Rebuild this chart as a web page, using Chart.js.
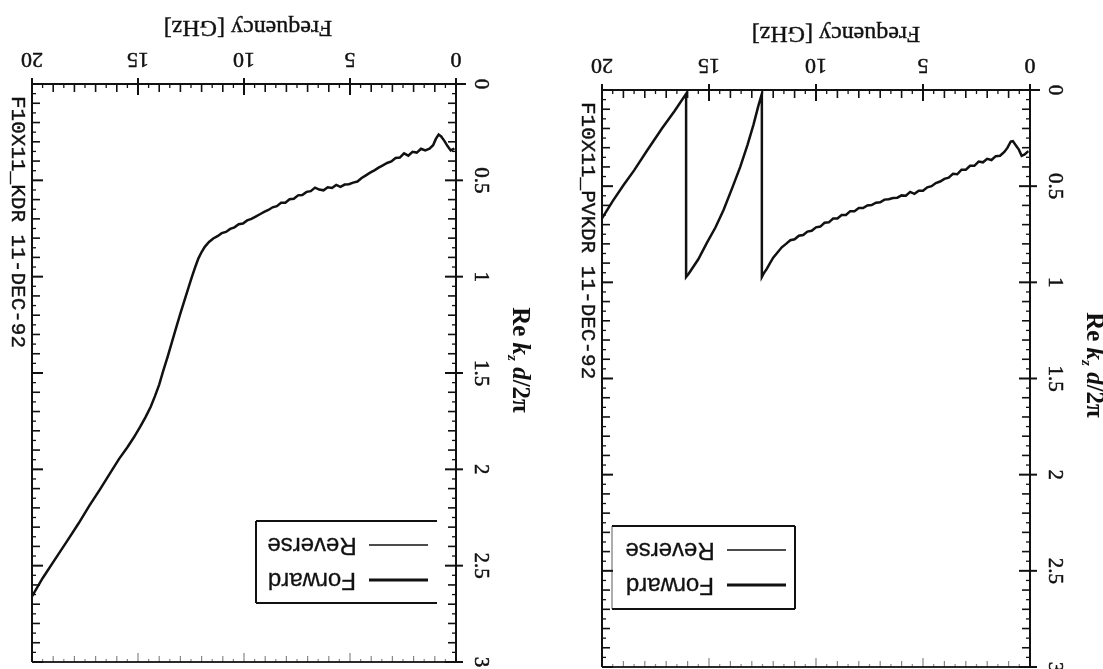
<!DOCTYPE html>
<html>
<head>
<meta charset="utf-8">
<title>F10X11 dispersion</title>
<script src="https://cdn.jsdelivr.net/npm/chart.js@4.4.0/dist/chart.umd.min.js"></script>
<style>
  html, body { margin: 0; padding: 0; background: #fff; }
  #sheet { position: relative; width: 1103px; height: 669px; overflow: hidden; background: #fff; }
  #sheet canvas { position: absolute; left: 0; top: 0; }
</style>
</head>
<body>
<div id="sheet">
  <canvas id="kdr" width="1103" height="669"></canvas>
  <canvas id="pvkdr" width="1103" height="669"></canvas>
</div>
<script>
// Axis ticks
const freqTicks = [0, 5, 10, 15, 20];
const kTicks = [0, 0.5, 1, 1.5, 2, 2.5, 3];
const kTickLabels = ['0', '0.5', '1', '1.5', '2', '2.5', '3'];

// KDR run: frequency [GHz] and Re kz d/2pi (unfolded)
const kdrFreq = [0.08, 0.25, 0.40, 0.55, 0.70, 0.82, 0.95, 1.08, 1.25, 1.45, 1.65, 1.85, 2.05, 2.25, 2.45,
  2.65, 2.85, 3.05, 3.25, 3.45, 3.65, 3.85, 4.05, 4.25, 4.45, 4.65, 4.85, 5.05, 5.25, 5.45, 5.65, 5.85,
  6.05, 6.25, 6.45, 6.65, 6.85, 7.05, 7.25, 7.45, 7.65, 7.85, 8.05, 8.25, 8.45, 8.65, 8.85, 9.05, 9.25,
  9.45, 9.65, 9.85, 10.05, 10.25, 10.45, 10.65, 10.85, 11.05, 11.25, 11.45, 11.65, 11.85, 12.0, 12.15,
  12.3, 12.45, 12.6, 12.8, 13.0, 13.2, 13.4, 13.6, 13.8, 14.0, 14.2, 14.4, 14.65, 14.9, 15.2, 15.5,
  15.9, 16.3, 16.8, 17.3, 17.8, 18.3, 18.9, 19.5, 20.0];
const kdrK = [0.335, 0.345, 0.322, 0.295, 0.272, 0.262, 0.285, 0.318, 0.336, 0.345, 0.336, 0.356, 0.352,
  0.372, 0.360, 0.382, 0.384, 0.402, 0.410, 0.422, 0.434, 0.448, 0.460, 0.474, 0.488, 0.506, 0.512, 0.520,
  0.522, 0.534, 0.524, 0.540, 0.536, 0.552, 0.548, 0.538, 0.556, 0.560, 0.576, 0.578, 0.596, 0.598, 0.616,
  0.616, 0.634, 0.640, 0.654, 0.664, 0.676, 0.688, 0.700, 0.708, 0.724, 0.728, 0.744, 0.752, 0.768, 0.774,
  0.790, 0.802, 0.820, 0.845, 0.872, 0.905, 0.950, 0.998, 1.050, 1.120, 1.190, 1.265, 1.340, 1.415, 1.485,
  1.560, 1.620, 1.675, 1.730, 1.780, 1.835, 1.885, 1.947, 2.017, 2.105, 2.190, 2.280, 2.365, 2.465, 2.565,
  2.660];

// PVKDR run: same measurement folded back into 0..1
const pvFreq = [0.08, 0.25, 0.39, 0.52, 0.65, 0.80, 0.90, 1.05, 1.2, 1.4, 1.6, 1.8, 2.0, 2.2, 2.4, 2.6,
  2.8, 3.0, 3.2, 3.4, 3.6, 3.8, 4.0, 4.2, 4.4, 4.6, 4.8, 5.0, 5.2, 5.4, 5.6, 5.8, 6.0, 6.2, 6.4, 6.6, 6.8,
  7.0, 7.2, 7.4, 7.6, 7.8, 8.0, 8.2, 8.4, 8.6, 8.8, 9.0, 9.2, 9.4, 9.6, 9.8, 10.0, 10.2, 10.4, 10.6, 10.8,
  11.0, 11.2, 11.4, 11.6, 11.8, 12.0, 12.15, 12.3, 12.45, 12.53, 12.53, 12.7, 12.92, 13.2, 13.54, 13.9,
  14.32, 14.7, 15.1, 15.5, 15.95, 16.07, 16.07, 16.6, 17.2, 17.9, 18.5, 19.0, 19.5, 20.0];
const pvK = [0.318, 0.335, 0.342, 0.310, 0.290, 0.266, 0.268, 0.300, 0.322, 0.342, 0.344, 0.364, 0.358,
  0.376, 0.372, 0.394, 0.394, 0.414, 0.414, 0.438, 0.436, 0.456, 0.462, 0.476, 0.484, 0.500, 0.506, 0.524,
  0.524, 0.540, 0.530, 0.550, 0.548, 0.560, 0.562, 0.568, 0.570, 0.584, 0.586, 0.598, 0.600, 0.614, 0.614,
  0.630, 0.630, 0.650, 0.650, 0.668, 0.668, 0.688, 0.690, 0.710, 0.714, 0.732, 0.736, 0.754, 0.758, 0.776,
  0.781, 0.800, 0.818, 0.845, 0.872, 0.900, 0.930, 0.955, 0.972, 0.020, 0.085, 0.180, 0.285, 0.400, 0.505,
  0.624, 0.715, 0.795, 0.880, 0.955, 0.972, 0.020, 0.108, 0.200, 0.316, 0.418, 0.495, 0.578, 0.667];

const INK = '#111';
const SERIF = '"Liberation Serif", "DejaVu Serif", serif';

function line(ctx, x1, y1, x2, y2) {
  ctx.beginPath(); ctx.moveTo(x1, y1); ctx.lineTo(x2, y2); ctx.stroke();
}

// text drawn with a hairline stroke so it keeps the heavy plotter look
function text(ctx, str, x, y, angle, font, align, heavy) {
  ctx.save();
  ctx.translate(x, y);
  ctx.rotate(angle);
  ctx.font = font;
  ctx.textAlign = align || 'center';
  ctx.textBaseline = 'middle';
  ctx.fillText(str, 0, 0);
  if (heavy) { ctx.lineWidth = heavy; ctx.strokeText(str, 0, 0); }
  ctx.restore();
}

// "Re k_z d/2π" written top to bottom
function kTitle(ctx, cx, cy) {
  const parts = [
    { s: 'Re ', f: 'bold 25px ' + SERIF, dy: 0 },
    { s: 'k', f: 'italic bold 25px ' + SERIF, dy: 0 },
    { s: 'z', f: 'italic bold 15px ' + SERIF, dy: 7 },
    { s: ' d', f: 'italic bold 25px ' + SERIF, dy: 0 },
    { s: '/2π', f: 'bold 25px ' + SERIF, dy: 0 }
  ];
  let w = 0;
  parts.forEach(p => { ctx.font = p.f; p.w = ctx.measureText(p.s).width; w += p.w; });
  ctx.save();
  ctx.translate(cx, cy);
  ctx.rotate(Math.PI / 2);
  ctx.textBaseline = 'middle';
  ctx.textAlign = 'left';
  let x = -w / 2;
  parts.forEach(p => { ctx.font = p.f; ctx.fillText(p.s, x, p.dy); x += p.w; });
  ctx.restore();
}

// frame, inward ticks, rotated labels and legend of the old plotter sheet
const scanFrame = {
  id: 'scanFrame',
  afterDraw(chart, args, o) {
    const { ctx, chartArea: a, scales: { x, y } } = chart;
    ctx.save();
    ctx.strokeStyle = INK;
    ctx.fillStyle = INK;

    // box
    ctx.lineWidth = 2;
    line(ctx, a.left, a.top, a.right + 10, a.top);
    line(ctx, a.right, a.top - 4, a.right, a.bottom);
    line(ctx, a.left, a.top, a.left, a.bottom);
    ctx.strokeStyle = '#2a2a2a';
    line(ctx, a.left, a.bottom, a.right + 4, a.bottom);
    ctx.strokeStyle = INK;

    // frequency ticks, every 0.5 GHz
    for (let i = 0; i <= 40; i++) {
      const px = x.getPixelForValue(i / 2);
      if (i % 10 === 0) { ctx.lineWidth = 2; line(ctx, px, a.top - 6, px, a.top + 11); }
      else if (i % 2 === 0) { ctx.lineWidth = 1.6; line(ctx, px, a.top, px, a.top + 8); }
      else { ctx.lineWidth = 1.3; line(ctx, px, a.top, px, a.top + 4); }
      ctx.globalAlpha = 0.5;
      ctx.lineWidth = 1.2;
      line(ctx, px, a.bottom, px, a.bottom - (i % 10 === 0 ? 9 : (i % 2 === 0 ? 6 : 3)));
      ctx.globalAlpha = 1;
    }

    // Re kz ticks, every 0.05
    for (let i = 0; i <= 60; i++) {
      const py = y.getPixelForValue(i / 20);
      let len, w;
      if (i % 10 === 0) { len = 11; w = 2; }
      else if (i % 2 === 0) { len = 8; w = 1.6; }
      else { len = 4; w = 1.3; }
      ctx.lineWidth = w;
      line(ctx, a.right + (i % 10 === 0 ? 7 : 0), py, a.right - len, py);
      line(ctx, a.left, py, a.left + len, py);
    }

    // frequency labels and title, upside down
    freqTicks.forEach(v => {
      text(ctx, String(v), x.getPixelForValue(v), a.top - 25, Math.PI, '22px ' + SERIF, 'center', 0.5);
    });
    text(ctx, 'Frequency [GHz]', (a.left + a.right) / 2 + o.titleShift, a.top - 57, Math.PI, '24px ' + SERIF, 'center', 0.4);

    // Re kz labels and title, top to bottom
    kTicks.forEach((v, i) => {
      text(ctx, kTickLabels[i], a.right + 25, y.getPixelForValue(v), Math.PI / 2, '21px ' + SERIF, 'center', 0.5);
    });
    kTitle(ctx, a.right + 63, o.titleY);

    // run tag
    text(ctx, o.runLabel, a.left - 14, a.top + 12, Math.PI / 2, '21px "Liberation Mono", monospace', 'left', 0.4);

    // legend
    const b = o.legendBox;
    ctx.lineWidth = 2;
    ctx.strokeStyle = INK;
    line(ctx, b.x0, b.y0, b.x1, b.y0);
    line(ctx, b.x0, b.y1, b.x1, b.y1);
    ctx.strokeStyle = o.legendLeftEdge;
    line(ctx, b.x0, b.y0, b.x0, b.y1);
    ctx.strokeStyle = o.legendRightEdge;
    line(ctx, b.x1, b.y0, b.x1, b.y1);
    ctx.strokeStyle = INK;
    const rows = [chart.data.datasets[1], chart.data.datasets[0]];
    rows.forEach((ds, r) => {
      const ry = b.y0 + 24 + r * 35;
      ctx.lineWidth = ds.legendWidth;
      line(ctx, b.x1 - 68, ry, b.x1 - 9, ry);
      text(ctx, ds.label, b.x1 - 125, ry, Math.PI, '24px "Liberation Sans", Arial, sans-serif', 'center', 0.3);
    });

    ctx.restore();
  }
};

function panel(id, freq, k, o) {
  const pts = freq.map((f, i) => ({ x: f, y: k[i] }));
  return new Chart(document.getElementById(id), {
    type: 'line',
    data: {
      datasets: [
        { label: 'Forward', data: pts, borderColor: INK, borderWidth: 2.5, legendWidth: 3, pointRadius: 0, tension: 0 },
        { label: 'Reverse', data: pts, borderColor: INK, borderWidth: 1, legendWidth: 1.5, pointRadius: 0, tension: 0 }
      ]
    },
    options: {
      responsive: false,
      animation: false,
      events: [],
      layout: { padding: o.padding },
      plugins: {
        legend: { display: false },
        tooltip: { enabled: false },
        scanFrame: o
      },
      scales: {
        x: { type: 'linear', reverse: true, min: 0, max: 20, display: false },
        y: { type: 'linear', reverse: true, min: 0, max: 3, display: false }
      }
    },
    plugins: [scanFrame]
  });
}

panel('kdr', kdrFreq, kdrK, {
  padding: { left: 32, right: 647, top: 84, bottom: 7 },
  runLabel: 'F10X11_KDR 11-DEC-92',
  titleShift: 4,
  titleY: 360,
  legendBox: { x0: 256, x1: 437, y0: 521, y1: 603 },
  legendLeftEdge: INK,
  legendRightEdge: 'rgba(0,0,0,0)'
});

panel('pvkdr', pvFreq, pvK, {
  padding: { left: 602, right: 73, top: 90, bottom: 2 },
  runLabel: 'F10X11_PVKDR 11-DEC-92',
  titleShift: 20,
  titleY: 365,
  legendBox: { x0: 612, x1: 795, y0: 526, y1: 609 },
  legendLeftEdge: 'rgba(20,20,20,0.35)',
  legendRightEdge: INK
});
</script>
</body>
</html>
